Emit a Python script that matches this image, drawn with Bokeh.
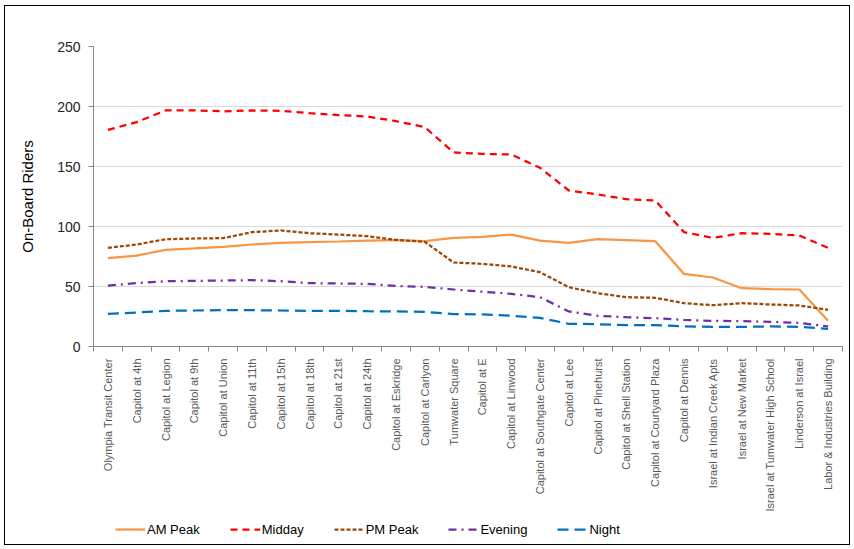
from bokeh.plotting import figure
from bokeh.layouts import column
from bokeh.models import Range1d, FixedTicker, Legend, LegendItem
from bokeh.embed import file_html
from bokeh.resources import INLINE

stops = ["Olympia Transit Center", "Capitol at 4th", "Capitol at Legion", "Capitol at 9th",
         "Capitol at Union", "Capitol at 11th", "Capitol at 15th", "Capitol at 18th",
         "Capitol at 21st", "Capitol at 24th", "Capitol at Eskridge", "Capitol at Carlyon",
         "Tumwater Square", "Capitol at E", "Capitol at Linwood", "Capitol at Southgate Center",
         "Capitol at Lee", "Capitol at Pinehurst", "Capitol at Shell Station",
         "Capitol at Courtyard Plaza", "Capitol at Dennis", "Israel at Indian Creek Apts",
         "Israel at New Market", "Israel at Tumwater High School", "Linderson at Israel",
         "Labor & Industries Building"]

am_peak = [73.6, 75.8, 80.6, 81.7, 83.0, 85.0, 86.4, 87.0, 87.5, 88.3, 88.6, 87.8, 90.5,
           91.4, 93.3, 88.3, 86.4, 89.4, 88.6, 87.8, 60.5, 57.5, 48.6, 47.8, 47.5, 21.4]
midday = [180.5, 187.0, 196.7, 196.7, 196.0, 196.7, 196.4, 194.4, 192.8, 191.7, 187.8, 182.8,
          161.7, 160.5, 160.0, 148.9, 130.0, 126.7, 122.8, 121.7, 95.3, 90.5, 94.4, 93.9, 92.5, 82.2]
pm_peak = [82.2, 85.0, 89.4, 90.0, 90.3, 95.3, 96.7, 94.4, 93.3, 91.9, 88.9, 87.2, 70.0,
           68.9, 66.7, 61.9, 49.4, 44.4, 41.1, 40.6, 36.1, 34.4, 36.1, 35.0, 34.2, 30.6]
evening = [50.8, 52.8, 54.4, 54.7, 55.0, 55.3, 54.4, 52.8, 52.5, 52.2, 50.5, 49.7, 47.5,
           45.7, 43.9, 41.1, 29.2, 25.6, 24.4, 23.6, 22.2, 21.4, 21.1, 20.6, 19.7, 16.7]
night = [27.2, 28.3, 29.7, 30.0, 30.3, 30.3, 30.0, 29.7, 29.7, 29.4, 29.2, 28.9, 27.0,
         26.8, 25.6, 23.9, 18.9, 18.6, 17.8, 17.8, 16.7, 16.4, 16.4, 16.7, 16.4, 14.7]

y_ticks = [0, 50, 100, 150, 200, 250]
series_names = ["AM Peak", "Midday", "PM Peak", "Evening", "Night"]

n = len(stops)
xs = [i + 0.5 for i in range(n)]

FONT = "Liberation Sans"

p = figure(frame_width=749, frame_height=300, output_backend="svg", toolbar_location=None,
           x_range=Range1d(0, n), y_range=Range1d(0, 250),
           min_border_left=88, min_border_right=7, min_border_top=40, min_border_bottom=0)
p.outline_line_color = None
p.background_fill_color = "white"
p.border_fill_color = "white"

# x axis
p.xaxis.ticker = FixedTicker(ticks=xs, minor_ticks=list(range(n + 1)))
p.xaxis.major_label_overrides = {x: s for x, s in zip(xs, stops)}
p.xaxis.major_label_orientation = 1.5707963
p.xaxis.major_tick_line_color = None
p.xaxis.major_tick_out = 0
p.xaxis.major_tick_in = 0
p.xaxis.minor_tick_line_color = "#868686"
p.xaxis.minor_tick_out = 5
p.xaxis.minor_tick_in = 0
p.xaxis.axis_line_color = "#868686"
p.xaxis.major_label_text_font = FONT
p.xaxis.major_label_text_font_size = "11px"
p.xaxis.major_label_text_color = "#595959"
p.xaxis.major_label_standoff = 7
p.xgrid.visible = False

# y axis
p.yaxis.ticker = FixedTicker(ticks=y_ticks)
p.yaxis.axis_line_color = "#868686"
p.yaxis.major_tick_line_color = "#868686"
p.yaxis.major_tick_out = 5
p.yaxis.major_tick_in = 0
p.yaxis.minor_tick_line_color = None
p.yaxis.major_label_text_font = FONT
p.yaxis.major_label_text_font_size = "14px"
p.yaxis.major_label_text_color = "#262626"
p.yaxis.major_label_standoff = 8
p.yaxis.axis_label = "On-Board Riders"
p.yaxis.axis_label_text_font = FONT
p.yaxis.axis_label_text_font_size = "15px"
p.yaxis.axis_label_text_font_style = "normal"
p.yaxis.axis_label_text_color = "black"
p.yaxis.axis_label_standoff = 18
p.ygrid.grid_line_color = "#d9d9d9"
p.ygrid.grid_line_width = 1

styles = [
    (am_peak, "#F79646", "solid", 2.25),
    (midday, "#FF0000", "7 5", 2.25),
    (pm_peak, "#984807", "4 2", 2.25),
    (evening, "#7030A0", "8 5 2 5", 2.25),
    (night, "#0070C0", "11 6", 2.25),
]

for vals, color, dash, w in styles:
    p.line(xs, vals, line_color=color, line_dash=dash, line_width=w)

# legend strip below the chart: same series, drawn outside its visible range
lf = figure(width=844, height=30, output_backend="svg", toolbar_location=None,
            x_range=Range1d(0, n), y_range=Range1d(-1000, -999),
            x_axis_location=None, y_axis_location=None, min_border=0)
lf.grid.visible = False
lf.outline_line_color = None
lf.background_fill_alpha = 0
lf.border_fill_alpha = 0

items = []
for name, (vals, color, dash, w) in zip(series_names, styles):
    r = lf.line(xs, vals, line_color=color, line_dash=dash, line_width=w)
    items.append(LegendItem(label=name, renderers=[r]))

legend = Legend(items=items, orientation="horizontal", location=(22, 7),
                label_text_font=FONT, label_text_font_size="13px", label_text_color="black",
                glyph_width=30, glyph_height=16, label_standoff=2, spacing=30,
                padding=0, margin=0, border_line_color=None, background_fill_alpha=0)
lf.add_layout(legend, "center")

layout = column(p, lf, spacing=0,
                styles={"border": "1px solid black", "margin-left": "4px", "margin-top": "5px"})

open("out.html", "w").write(file_html(layout, INLINE))
